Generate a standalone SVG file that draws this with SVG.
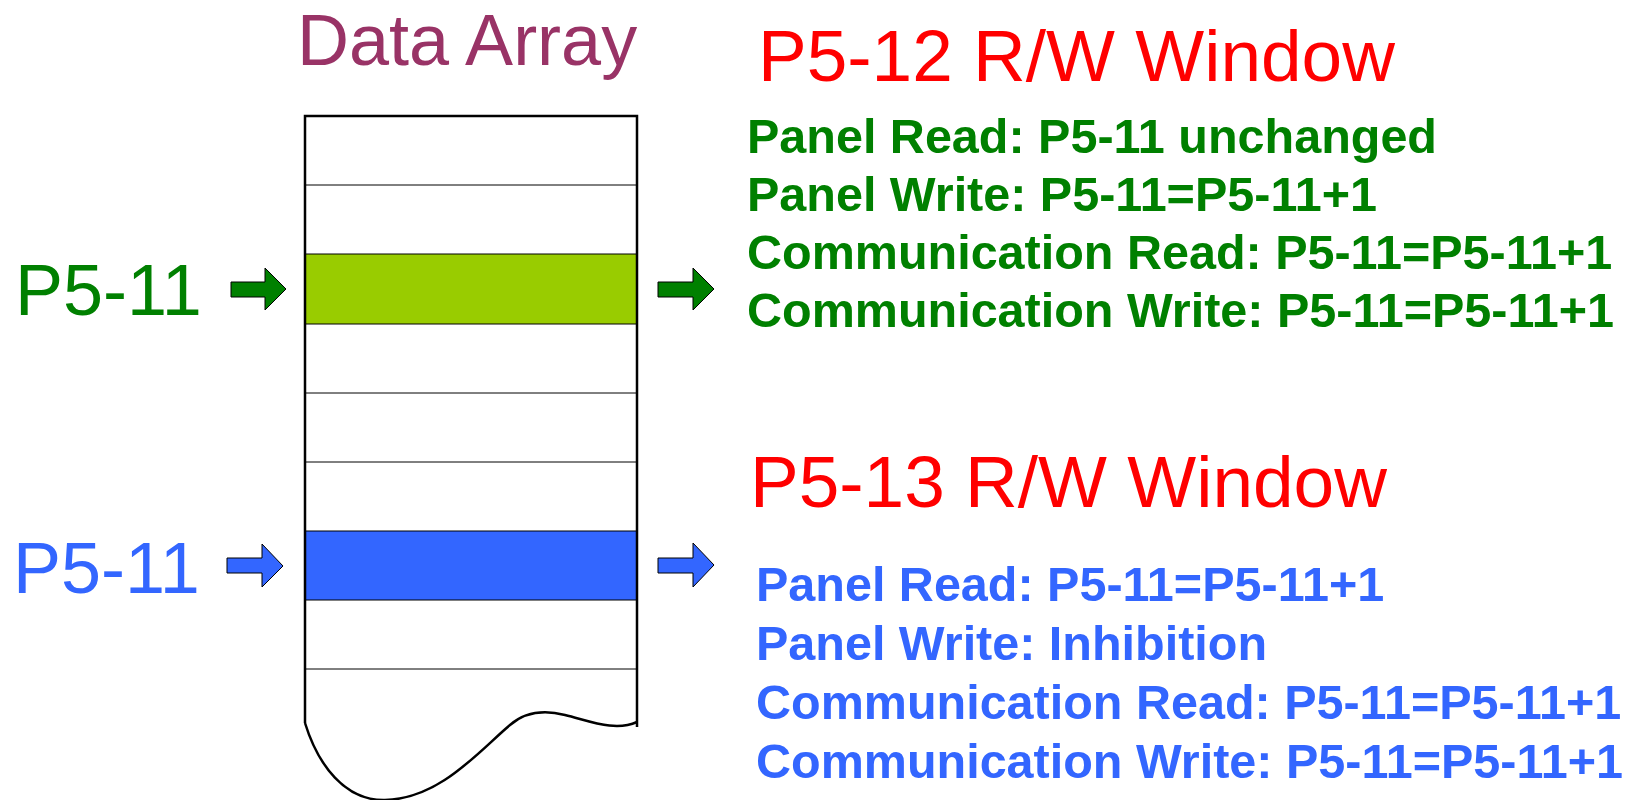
<svg xmlns="http://www.w3.org/2000/svg" width="1637" height="800" viewBox="0 0 1637 800">
  <style>
    .title { font-family: "Liberation Sans", Arial, sans-serif; font-size: 73px; fill: #FF0000; }
    .head { font-family: "Liberation Sans", Arial, sans-serif; font-size: 72px; fill: #993366; }
    .lbl { font-family: "Liberation Sans", Arial, sans-serif; font-size: 72px; }
    .info { font-family: "Liberation Sans", Arial, sans-serif; font-size: 48.5px; font-weight: bold; }
    .green { fill: #008000; }
    .blue { fill: #3366FF; }
    .frame { fill: none; stroke: #000; stroke-width: 2.5; }
    .row { stroke: #000; stroke-width: 1; }
    .arrow { stroke: #000; stroke-width: 1; stroke-linejoin: miter; }
  </style>

  <!-- Heading above the array -->
  <g id="heading">
    <text class="head" x="297" y="65">Data Array</text>
  </g>

  <!-- The data array: stacked cells with a torn bottom edge -->
  <g id="data-array">
    <rect x="305" y="254" width="332" height="70" fill="#99CC00"/>
    <rect x="305" y="531" width="332" height="69" fill="#3366FF"/>
    <line class="row" x1="305" y1="185" x2="637" y2="185"/>
    <line class="row" x1="305" y1="254" x2="637" y2="254"/>
    <line class="row" x1="305" y1="324" x2="637" y2="324"/>
    <line class="row" x1="305" y1="393" x2="637" y2="393"/>
    <line class="row" x1="305" y1="462" x2="637" y2="462"/>
    <line class="row" x1="305" y1="531" x2="637" y2="531"/>
    <line class="row" x1="305" y1="600" x2="637" y2="600"/>
    <line class="row" x1="305" y1="669" x2="637" y2="669"/>
    <path class="frame" d="M305,723 L305,116 L637,116 L637,727"/>
    <path class="frame" d="M305,723 C318,765 345,801 385,800 C440,799 480,750 510,725 C525,712 545,710 565,715 C590,721 615,732 637,722"/>
  </g>

  <!-- Labels on the left -->
  <g id="label-green">
    <text class="lbl green" x="15" y="315">P5-11</text>
  </g>
  <g id="label-blue">
    <text class="lbl blue" x="13" y="593">P5-11</text>
  </g>

  <!-- Pointer arrows -->
  <g id="connectors">
    <polygon class="arrow" fill="#008000" points="231,282 265,282 265,268 286,289 265,310 265,297 231,297"/>
    <polygon class="arrow" fill="#3366FF" points="227,558 262,558 262,544 283,566 262,587 262,573 227,573"/>
    <polygon class="arrow" fill="#008000" points="658,282 693,282 693,268 714,289 693,310 693,297 658,297"/>
    <polygon class="arrow" fill="#3366FF" points="658,558 693,558 693,543 714,565 693,587 693,573 658,573"/>
  </g>

  <!-- P5-12 window description -->
  <g id="window-p5-12">
    <text class="title" x="758" y="81">P5-12 R/W Window</text>
    <text class="info green" x="747" y="153">Panel Read: P5-11 unchanged</text>
    <text class="info green" x="747" y="211">Panel Write: P5-11=P5-11+1</text>
    <text class="info green" x="747" y="269">Communication Read: P5-11=P5-11+1</text>
    <text class="info green" x="747" y="327">Communication Write: P5-11=P5-11+1</text>
  </g>

  <!-- P5-13 window description -->
  <g id="window-p5-13">
    <text class="title" x="750" y="507">P5-13 R/W Window</text>
    <text class="info blue" x="756" y="601">Panel Read: P5-11=P5-11+1</text>
    <text class="info blue" x="756" y="660">Panel Write: Inhibition</text>
    <text class="info blue" x="756" y="719">Communication Read: P5-11=P5-11+1</text>
    <text class="info blue" x="756" y="778">Communication Write: P5-11=P5-11+1</text>
  </g>
</svg>
